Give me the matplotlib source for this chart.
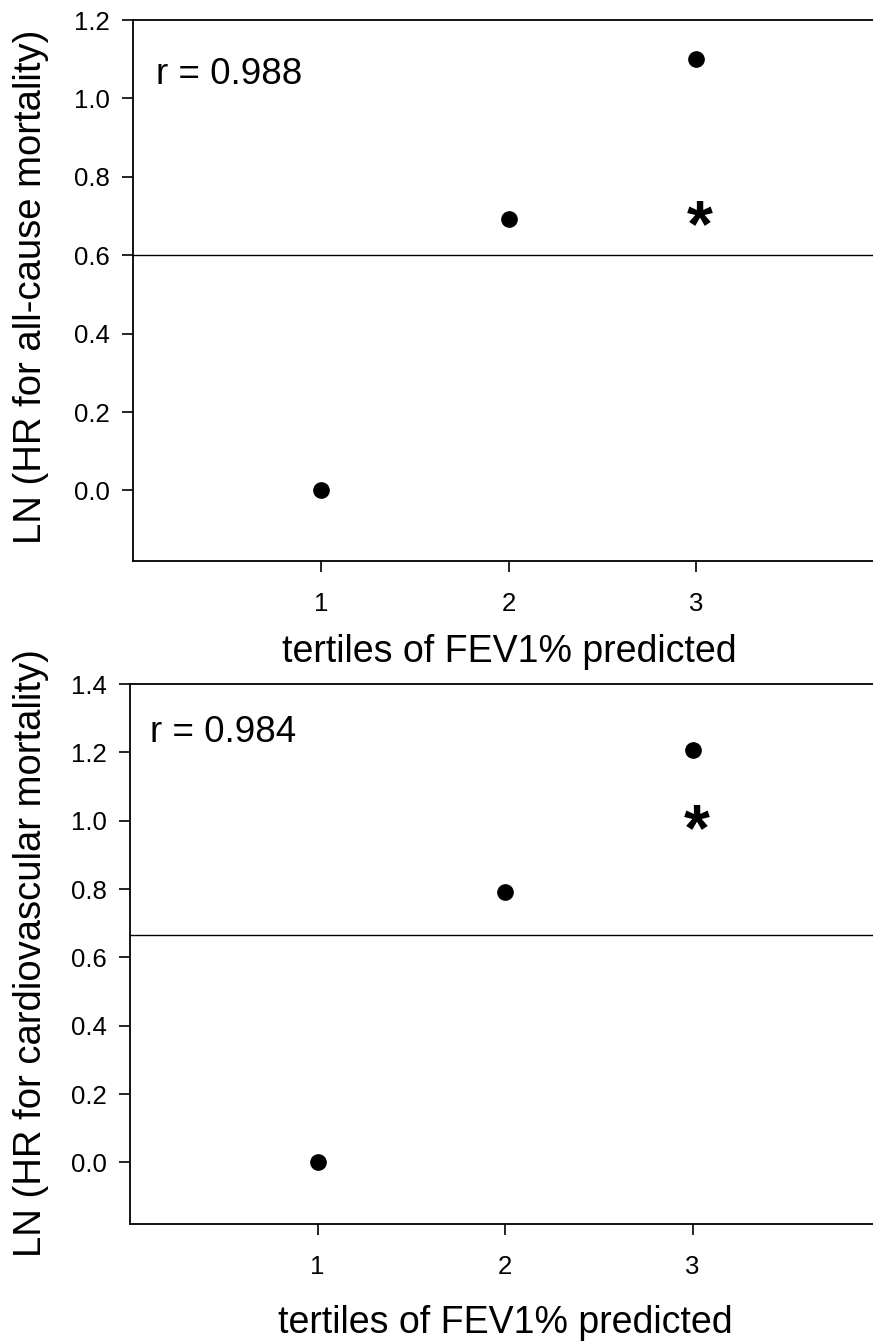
import matplotlib
matplotlib.use("Agg")
import matplotlib.pyplot as plt
from matplotlib.transforms import offset_copy

plt.rcParams['font.family'] = ['Liberation Sans', 'DejaVu Sans']

# data
tertiles = [1, 2, 3]
ln_hr_all = [0.0, 0.693, 1.10]
ln_hr_cv = [0.0, 0.79, 1.208]
ref_line_all = 0.6
ref_line_cv = 0.665
star_all = (3.02, 0.707)
star_cv = (3.02, 1.01)
r_all = "r = 0.988"
r_cv = "r = 0.984"
yticks_all = [0.0, 0.2, 0.4, 0.6, 0.8, 1.0, 1.2]
yticks_cv = [0.0, 0.2, 0.4, 0.6, 0.8, 1.0, 1.2, 1.4]
xticks = [1, 2, 3]
xlabel = "tertiles of FEV1% predicted"
ylabel_all = "LN (HR for all-cause mortality)"
ylabel_cv = "LN (HR for cardiovascular mortality)"

W, H = 873, 1341
fig = plt.figure(figsize=(W / 100, H / 100), dpi=100)

STAR_FS = 48


def panel(rect, y, hline, star, rtxt, yticks, ylim, rpos):
    ax = fig.add_axes(rect)
    ax.plot(tertiles, y, 'o', color='black', markersize=11, linestyle='none')
    ax.axhline(hline, color='black', linewidth=1.0)
    tr = offset_copy(ax.transData, fig=fig, x=0, y=-0.49 * STAR_FS,
                     units='points')
    ax.text(star[0], star[1], '*', fontsize=STAR_FS, fontweight='bold',
            ha='center', va='baseline', transform=tr)
    ax.text(rpos[0], rpos[1], rtxt, fontsize=26.5, ha='left', va='center',
            transform=ax.transAxes)
    ax.set_xlim(0, 4)
    ax.set_ylim(*ylim)
    ax.set_xticks(xticks)
    ax.set_yticks(yticks)
    ax.set_yticklabels([f"{v:.1f}" for v in yticks])
    ax.tick_params(axis='both', direction='out', length=8, width=1.2,
                   labelsize=18.5)
    ax.tick_params(axis='x', pad=14)
    ax.tick_params(axis='y', pad=9)
    for s in ax.spines.values():
        s.set_linewidth(1.3)
    ax.spines['right'].set_visible(False)
    return ax


ax1 = panel([133 / W, (H - 561) / H, 751 / W, 541 / H], ln_hr_all,
            ref_line_all, star_all, r_all, yticks_all, (-0.18, 1.2),
            (0.03, 0.9))
ax2 = panel([130 / W, (H - 1224) / H, 750 / W, 540 / H], ln_hr_cv,
            ref_line_cv, star_cv, r_cv, yticks_cv, (-0.18, 1.4),
            (0.027, 0.91))

fig.text(31 / W, 1 - 287 / H, ylabel_all, rotation=90, fontsize=27.5,
         ha='center', va='center')
fig.text(31 / W, 1 - 953 / H, ylabel_cv, rotation=90, fontsize=27.5,
         ha='center', va='center')
fig.text(509 / W, 1 - 652 / H, xlabel, fontsize=27, ha='center', va='center')
fig.text(505 / W, 1 - 1323 / H, xlabel, fontsize=27, ha='center', va='center')

fig.savefig("out.png", dpi=100)
